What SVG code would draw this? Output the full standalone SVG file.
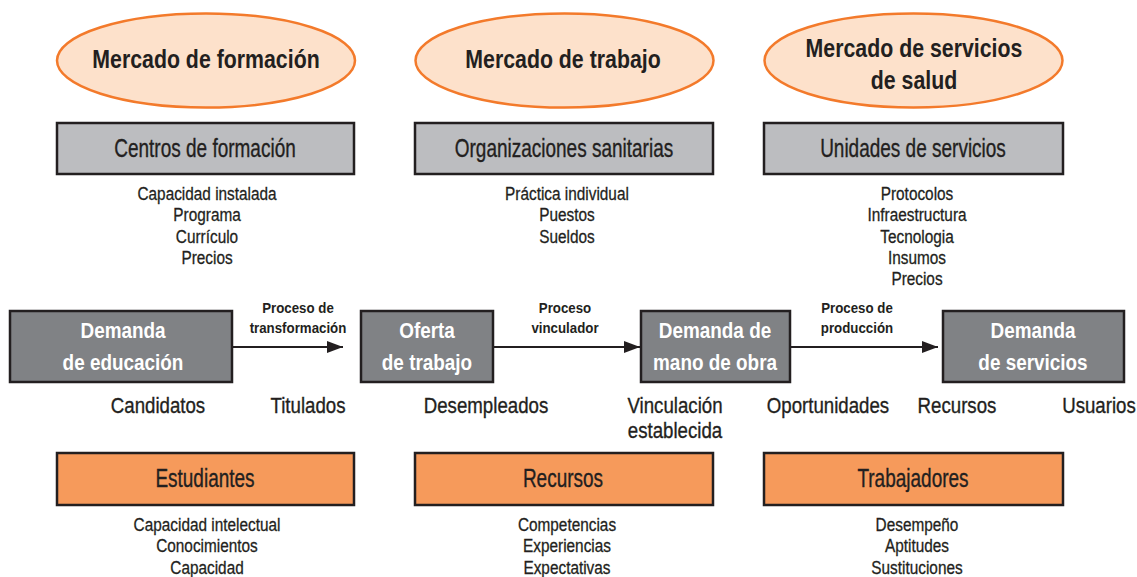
<svg xmlns="http://www.w3.org/2000/svg" width="1137" height="577" viewBox="0 0 1137 577">
<style>
text { font-family: "Liberation Sans", Arial, sans-serif; fill: #231f20; text-anchor: middle; transform-box: fill-box; transform-origin: center; }
.h { font-size: 26px; font-weight: bold; transform: scaleX(0.82); }
.b { font-size: 25px; transform: scaleX(0.76); stroke: #231f20; stroke-width: 0.35; }
.l { font-size: 18.5px; transform: scaleX(0.83); stroke: #231f20; stroke-width: 0.3; }
.m { font-size: 22.5px; transform: scaleX(0.83); stroke: #231f20; stroke-width: 0.35; }
.w { font-size: 22px; font-weight: bold; fill: #ffffff; transform: scaleX(0.86); }
.p { font-size: 14px; font-weight: bold; transform: scaleX(0.95); }
.ell { fill: #fde1cb; stroke: #f37a2b; stroke-width: 2.5; }
.gray { fill: #bcbdc0; stroke: #231f20; stroke-width: 2.5; }
.dark { fill: #808285; stroke: #231f20; stroke-width: 2.5; }
.orange { fill: #f69a5b; stroke: #231f20; stroke-width: 2.5; }
.conn { stroke: #231f20; stroke-width: 2; fill: none; }
</style>
<defs>
<marker id="arr" viewBox="0 0 16 12" refX="16" refY="6" markerWidth="16" markerHeight="12" markerUnits="userSpaceOnUse" orient="auto">
<path d="M0,0 L16,6 L0,12 Z" fill="#231f20"/>
</marker>
</defs>

<g id="mercado-formacion">
<ellipse class="ell" cx="206" cy="60.5" rx="149" ry="47"/>
<text class="h" x="206" y="68">Mercado de formación</text>
</g>
<g id="mercado-trabajo">
<ellipse class="ell" cx="564.5" cy="60.5" rx="149" ry="47"/>
<text class="h" x="563" y="68">Mercado de trabajo</text>
</g>
<g id="mercado-servicios">
<ellipse class="ell" cx="913.5" cy="60.5" rx="149" ry="47"/>
<text class="h" x="914" y="57">Mercado de servicios</text>
<text class="h" x="914" y="89">de salud</text>
</g>

<g id="centros-formacion">
<rect class="gray" x="57" y="123" width="297" height="51"/>
<text class="b" x="205" y="157">Centros de formación</text>
<text class="l" x="207" y="200">Capacidad instalada</text>
<text class="l" x="207" y="221">Programa</text>
<text class="l" x="207" y="243">Currículo</text>
<text class="l" x="207" y="264">Precios</text>
</g>
<g id="organizaciones-sanitarias">
<rect class="gray" x="415" y="123" width="298" height="51"/>
<text class="b" x="564" y="157">Organizaciones sanitarias</text>
<text class="l" x="567" y="200">Práctica individual</text>
<text class="l" x="567" y="221">Puestos</text>
<text class="l" x="567" y="243">Sueldos</text>
</g>
<g id="unidades-servicios">
<rect class="gray" x="764" y="123" width="299" height="51"/>
<text class="b" x="913" y="157">Unidades de servicios</text>
<text class="l" x="917" y="200">Protocolos</text>
<text class="l" x="917" y="221">Infraestructura</text>
<text class="l" x="917" y="243">Tecnologia</text>
<text class="l" x="917" y="264">Insumos</text>
<text class="l" x="917" y="285">Precios</text>
</g>

<g id="demanda-educacion">
<rect class="dark" x="10" y="311" width="222" height="71"/>
<text class="w" x="123" y="338">Demanda</text>
<text class="w" x="123" y="370">de educación</text>
</g>
<g id="oferta-trabajo">
<rect class="dark" x="361" y="311" width="132" height="71"/>
<text class="w" x="427" y="338">Oferta</text>
<text class="w" x="427" y="370">de trabajo</text>
</g>
<g id="demanda-mano-obra">
<rect class="dark" x="641" y="311" width="149" height="71"/>
<text class="w" x="715" y="338">Demanda de</text>
<text class="w" x="715" y="370">mano de obra</text>
</g>
<g id="demanda-servicios">
<rect class="dark" x="943" y="311" width="181" height="71"/>
<text class="w" x="1033" y="338">Demanda</text>
<text class="w" x="1033" y="370">de servicios</text>
</g>

<g id="connectors">
<line class="conn" x1="232" y1="347" x2="343" y2="347" marker-end="url(#arr)"/>
<line class="conn" x1="493" y1="347" x2="640" y2="347" marker-end="url(#arr)"/>
<line class="conn" x1="790" y1="347" x2="938" y2="347" marker-end="url(#arr)"/>
<text class="p" x="298" y="313">Proceso de</text>
<text class="p" x="298" y="333">transformación</text>
<text class="p" x="565" y="313">Proceso</text>
<text class="p" x="565" y="333">vinculador</text>
<text class="p" x="857" y="313">Proceso de</text>
<text class="p" x="857" y="333">producción</text>
</g>

<g id="labels-middle">
<text class="m" x="158" y="413">Candidatos</text>
<text class="m" x="308" y="413">Titulados</text>
<text class="m" x="486" y="413">Desempleados</text>
<text class="m" x="675" y="413">Vinculación</text>
<text class="m" x="675" y="438">establecida</text>
<text class="m" x="828" y="413">Oportunidades</text>
<text class="m" x="957" y="413">Recursos</text>
<text class="m" x="1099" y="413">Usuarios</text>
</g>

<g id="estudiantes">
<rect class="orange" x="57" y="453" width="297" height="52"/>
<text class="b" x="205" y="487">Estudiantes</text>
<text class="l" x="207" y="531">Capacidad intelectual</text>
<text class="l" x="207" y="552">Conocimientos</text>
<text class="l" x="207" y="574">Capacidad</text>
</g>
<g id="recursos">
<rect class="orange" x="415" y="453" width="298" height="52"/>
<text class="b" x="563" y="487">Recursos</text>
<text class="l" x="567" y="531">Competencias</text>
<text class="l" x="567" y="552">Experiencias</text>
<text class="l" x="567" y="574">Expectativas</text>
</g>
<g id="trabajadores">
<rect class="orange" x="764" y="453" width="299" height="52"/>
<text class="b" x="913" y="487">Trabajadores</text>
<text class="l" x="917" y="531">Desempeño</text>
<text class="l" x="917" y="552">Aptitudes</text>
<text class="l" x="917" y="574">Sustituciones</text>
</g>
</svg>
